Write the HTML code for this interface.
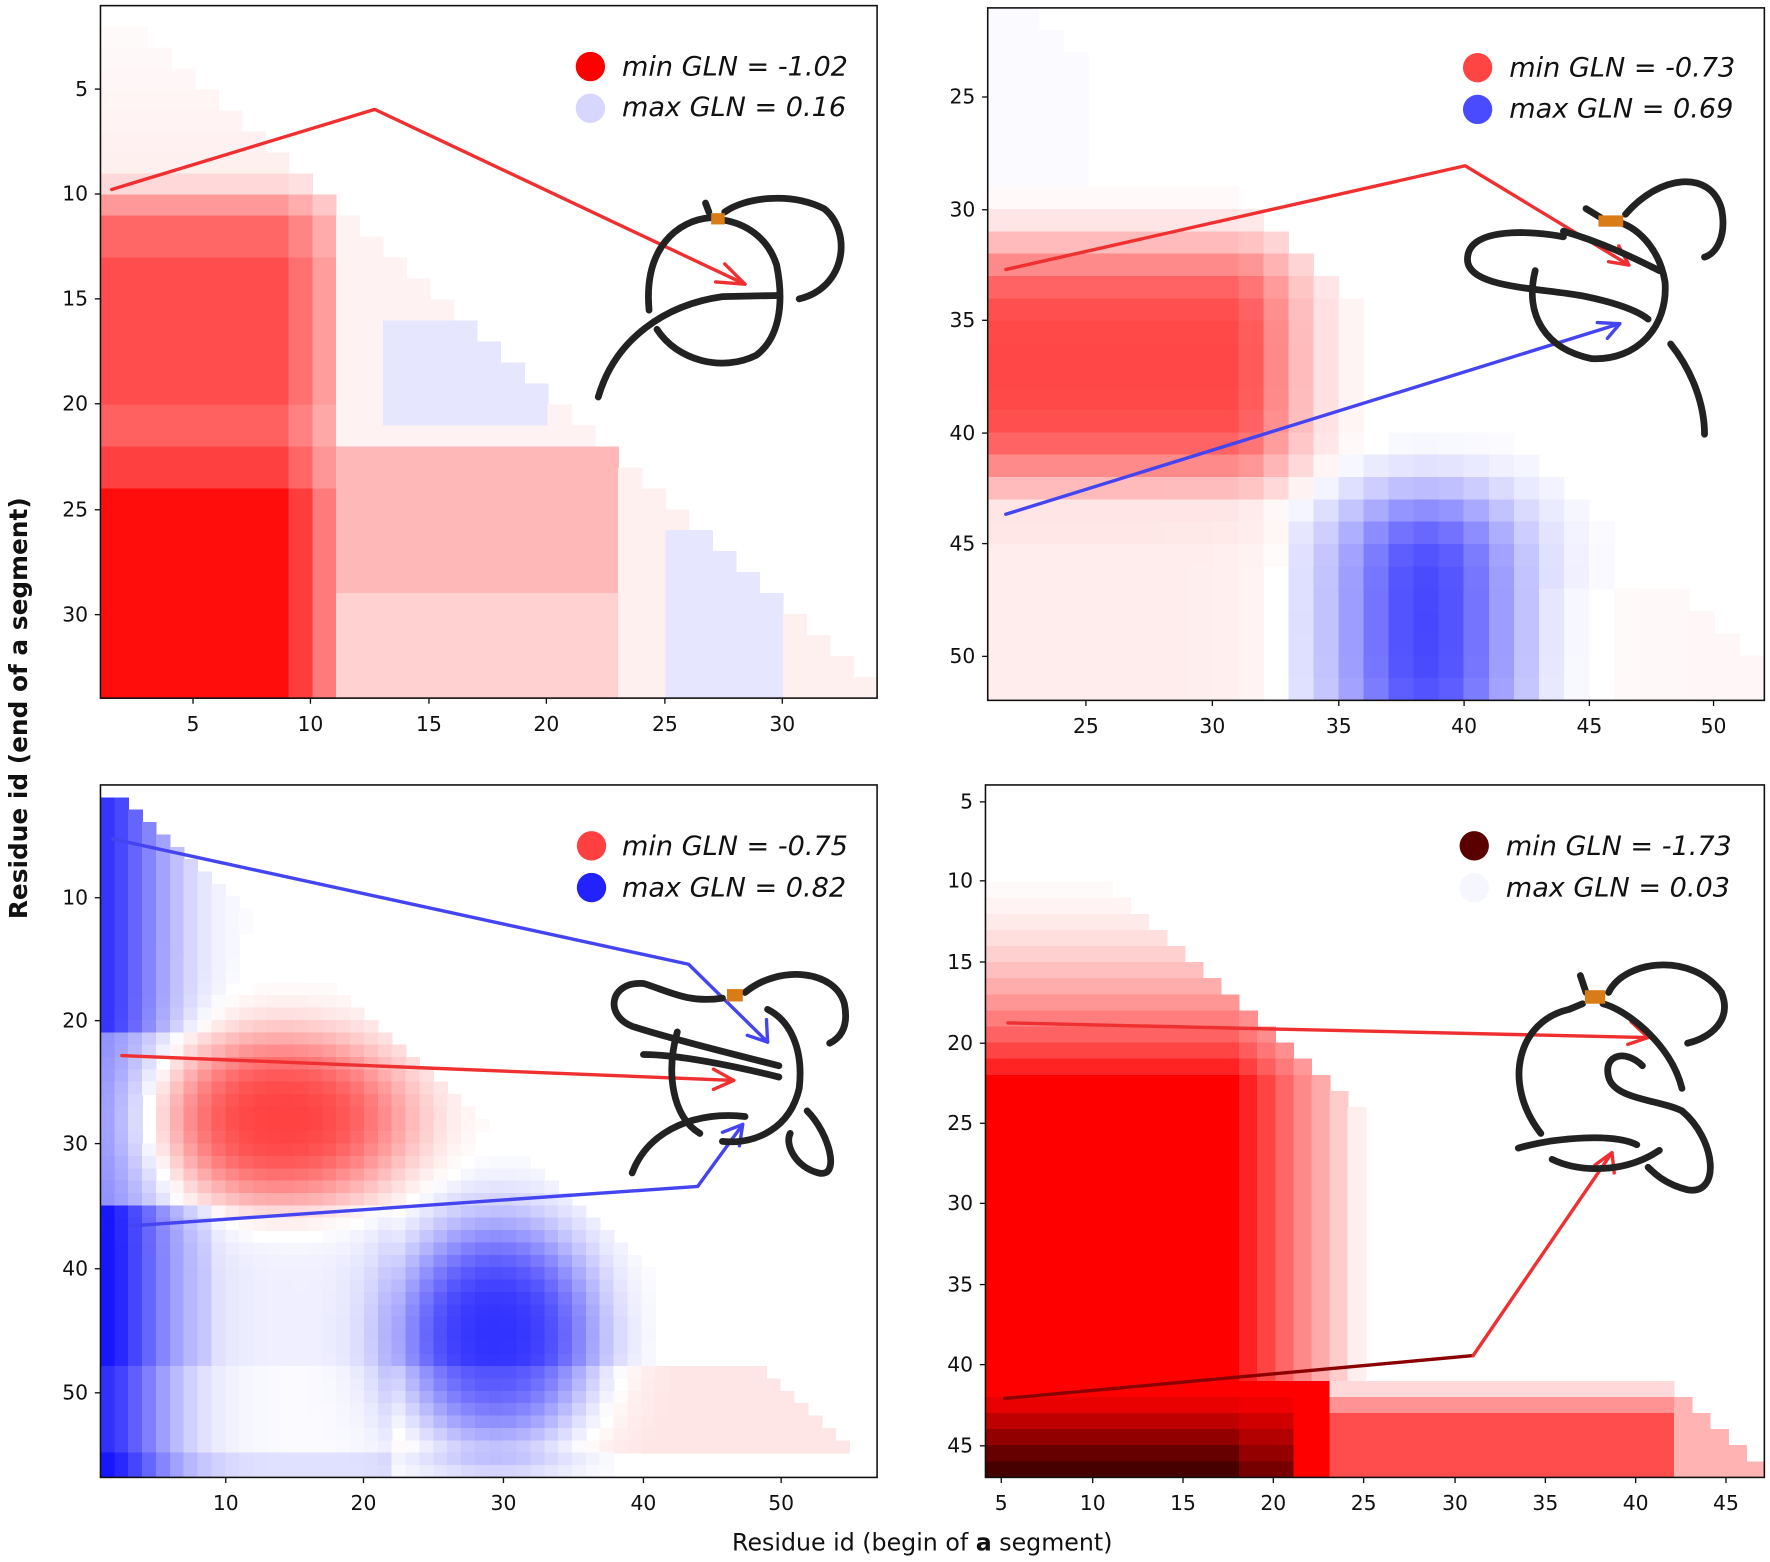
<!DOCTYPE html>
<html><head><meta charset="utf-8"><style>
html,body{margin:0;padding:0;background:#fff;}
svg{display:block;}
text{font-family:"DejaVu Sans","Liberation Sans",sans-serif;}
</style></head><body>
<svg id="s" xmlns="http://www.w3.org/2000/svg" width="1770" height="1562" viewBox="0 0 1568 1385" preserveAspectRatio="none">
<g id="hm" shape-rendering="crispEdges"></g>
<g id="ax"></g>
<g fill="none" stroke-width="3" stroke-linecap="round" stroke-linejoin="round">
<polyline points="99,168 332,97 660,252" stroke="#f03030"/>
<polyline points="642,234 660,252 634,250" stroke="#f03030"/>
<polyline points="891,239 1298,147 1443,235" stroke="#f03030"/>
<polyline points="1425,232 1443,235 1434,218" stroke="#f03030"/>
<polyline points="891,456 1435,287" stroke="#4444f0"/>
<polyline points="1415,286 1435,287 1424,300" stroke="#4444f0"/>
<polyline points="100,744 610,855 680,924" stroke="#4444f0"/>
<polyline points="662,918 680,924 679,904" stroke="#4444f0"/>
<polyline points="108,936 650,958" stroke="#f03030"/>
<polyline points="632,948 650,958 632,966" stroke="#f03030"/>
<polyline points="115,1087 618,1052 658,997" stroke="#4444f0"/>
<polyline points="640,1004 658,997 655,1016" stroke="#4444f0"/>
<polyline points="893,907 1460,920" stroke="#f03030"/>
<polyline points="1445,906 1460,920 1442,926" stroke="#f03030"/>
<polyline points="890,1240 1305,1202" stroke="#8b0000"/>
<polyline points="1305,1202 1428,1022" stroke="#f03030"/>
<polyline points="1413,1033 1428,1022 1430,1040" stroke="#f03030"/>
</g>
<g fill="none" stroke="#222" stroke-width="6" stroke-linecap="round">
<path d="M575,275 C570,220 600,195 630,193 M642,188 C660,175 700,170 730,185 C755,205 750,255 708,265"/>
<path d="M582,292 C600,320 640,330 670,315 C690,300 695,270 688,235 C680,210 660,198 640,195"/>
<path d="M530,352 C545,300 590,270 640,263 L690,262"/>
<path d="M628,188 L625,180"/>
<path d="M1360,240 C1350,280 1370,310 1410,318 C1450,320 1478,290 1475,250 C1470,220 1450,200 1430,196"/>
<path d="M1440,190 C1470,155 1515,150 1525,185 C1530,210 1520,225 1510,228"/>
<path d="M1385,210 C1360,205 1300,200 1300,230 C1300,255 1360,255 1400,262 C1430,268 1450,275 1460,283"/>
<path d="M1385,205 C1420,215 1450,230 1470,240"/>
<path d="M1480,305 C1500,330 1510,360 1510,385"/>
<path d="M1418,193 L1405,185"/>
<path d="M600,915 C590,950 595,990 620,1005 M640,1012 C670,1015 700,1000 708,965 C712,930 700,905 680,895"/>
<path d="M660,880 C690,855 740,860 748,890 C752,910 745,920 735,925"/>
<path d="M640,885 C610,890 590,878 570,872 C540,870 535,900 560,910 C590,920 650,935 690,945"/>
<path d="M570,935 C600,935 650,945 690,955"/>
<path d="M560,1040 C575,1000 620,985 660,990"/>
<path d="M715,985 C735,1005 745,1045 725,1040 C705,1035 695,1015 700,1005"/>
<path d="M1365,1005 C1330,960 1345,905 1390,895 L1402,890 M1420,890 C1440,895 1480,925 1490,965"/>
<path d="M1425,880 C1440,850 1500,845 1525,880 C1535,905 1515,920 1495,925"/>
<path d="M1455,945 C1440,930 1420,935 1425,955 C1430,975 1470,975 1490,985"/>
<path d="M1490,985 C1520,1010 1525,1060 1495,1055 C1475,1050 1465,1040 1460,1035"/>
<path d="M1345,1018 C1380,1008 1430,1005 1450,1015"/>
<path d="M1375,1028 C1400,1040 1440,1040 1470,1020"/>
<path d="M1405,880 L1400,865"/>
</g>
<g fill="#d97c17">
<rect x="630" y="189" width="12" height="10"/>
<rect x="1416" y="191" width="22" height="10"/>
<rect x="644" y="877" width="14" height="11"/>
<rect x="1404" y="878" width="18" height="12"/>
</g>
<g font-style="italic" font-size="24" fill="#111">
<circle cx="523" cy="59" r="13" fill="#f00"/><text x="551" y="67">min GLN = -1.02</text>
<circle cx="523" cy="96" r="13" fill="#d6d6ff"/><text x="551" y="103">max GLN = 0.16</text>
<circle cx="1309" cy="60" r="13" fill="#ff4444"/><text x="1337" y="68">min GLN = -0.73</text>
<circle cx="1309" cy="97" r="13" fill="#4a4aff"/><text x="1337" y="104">max GLN = 0.69</text>
<circle cx="524" cy="750" r="13" fill="#ff4040"/><text x="551" y="758">min GLN = -0.75</text>
<circle cx="524" cy="787" r="13" fill="#2222ff"/><text x="551" y="795">max GLN = 0.82</text>
<circle cx="1306" cy="750" r="13" fill="#5a0000"/><text x="1334" y="758">min GLN = -1.73</text>
<circle cx="1306" cy="787" r="13" fill="#f6f6ff"/><text x="1334" y="795">max GLN = 0.03</text>
</g>
<text transform="translate(24,628) rotate(-90)" text-anchor="middle" font-size="22" font-weight="bold" fill="#111">Residue id (end of a segment)</text>
<text x="817" y="1375" text-anchor="middle" font-size="21" fill="#111">Residue id (begin of <tspan font-weight="bold">a</tspan> segment)</text>
</svg>
<script>
var NS="http://www.w3.org/2000/svg";
function el(p,t,a,txt){var e=document.createElementNS(NS,t);for(var k in a)e.setAttribute(k,a[k]);if(txt!=null)e.textContent=txt;p.appendChild(e);return e;}
function col(v){if(!v||Math.abs(v)<0.015)return null;if(v<0){var t=Math.min(1,-v),c=Math.round(255*(1-t));return "rgb("+c+","+c+",255)";}
if(v<=1){var c=Math.round(255*(1-v));return "rgb(255,"+c+","+c+")";}var r=Math.round(255*(1-Math.min(1,v-1)*0.72));return "rgb("+r+",0,0)";}
function E(x){return Math.exp(x);}
var P=[
{x0:89,y0:5,x1:777,y1:619,lo:1,n:33,xt:[[5,171],[10,275],[15,380],[20,484],[25,589],[30,693]],yt:[[5,79],[10,172],[15,265],[20,358],[25,452],[30,545]],
f:function(i,j){if(i>j)return 0;if(j<=9)return 0.06*j/9;var rb=j==10?0.15:j==11?0.4:j<=13?0.6:j<=20?0.7:j<=22?0.62:j<=24?0.75:0.95;
if(i<=9)return rb;if(i==10)return rb*0.8;if(i==11)return rb*0.55;
if(j>=17&&j<=21&&i>=14&&i<=20)return -0.1;if(j>=27&&i>=26&&i<=30)return -0.1;
if(j<23)return 0.05;if(i>=24)return 0.06;return j>=30?0.18:0.28;}},
{x0:875,y0:7,x1:1563,y1:621,lo:21,n:31,xt:[[25,962],[30,1074],[35,1186],[40,1297],[45,1408],[50,1518]],yt:[[25,86],[30,186],[35,284],[40,384],[45,482],[50,582]],
f:function(i,j){if(i>j+1)return 0;var r=0.72*(i<=31?1:E(-Math.pow((i-31)/3,2)))*E(-Math.pow((j-37.5)/5.5,4));
var b=0.72*E(-Math.pow((i-39)/3.8,2))*E(-Math.pow((j-49)/6,4));var pk=(j>=45&&i<34)?0.07:(j>=48&&i>=44?0.03:0);if(j<30&&i<26)b+=0.02;return r-b+pk;}},
{x0:89,y0:696,x1:777,y1:1310,lo:1,n:56,xt:[[10,200],[20,322],[30,446],[40,570],[50,692]],yt:[[10,796],[20,905],[30,1014],[40,1125],[50,1235]],
f:function(i,j){if(i>j)return 0;var r=0.74*E(-Math.pow(Math.pow((i-14.5)/9.5,2)+Math.pow((j-28.5)/7,2),1.5));
var bb=0.8*E(-Math.pow(Math.pow((i-30)/7.5,2)+Math.pow((j-46)/9.5,2),1.5));
var bl=0.82*E(-Math.pow((i-1)/5.5,2))*((j>21&&j<36)?0.55:1)*(j<3?0:1);if(j>=36&&i<=22)bl+=0.12;var pk=(j>=49&&j<=55)?0.1:0;if(j>=36&&j<=48&&i>=10&&i<=22)pk+=0.06;return r-bb-bl+pk;}},
{x0:873,y0:696,x1:1563,y1:1310,lo:4,n:43,xt:[[5,887],[10,968],[15,1048],[20,1128],[25,1208],[30,1289],[35,1369],[40,1449],[45,1529]],yt:[[5,711],[10,781],[15,853],[20,925],[25,996],[30,1067],[35,1139],[40,1210],[45,1282]],
f:function(i,j){if(j<42){if(i>j||i>25)return 0;var rp=Math.min(1,Math.max(0,(j-9)/14));rp=rp*rp;var cf=i<=18?1:Math.max(0,1-(i-18)/7.5);return rp*cf;}
if(i>j)return 0;var d=Math.max(0,(j-42.5)/4);if(i<=21)return 1+0.95*d*(i>=19?0.7:1);if(i<=23)return 1;if(i<=42)return 0.15+0.55*Math.min(1,(j-42)/2);return 0.3;}}
];
var hm=document.getElementById("hm"),ax=document.getElementById("ax");
P.forEach(function(p){var cw=(p.x1-p.x0)/p.n,ch=(p.y1-p.y0)/p.n;
for(var a=0;a<p.n;a++)for(var b=0;b<p.n;b++){var i=p.lo+a+1,j=p.lo+b+1;var c=col(p.f(i,j));if(!c)continue;
el(hm,"rect",{x:(p.x0+a*cw).toFixed(2),y:(p.y0+b*ch).toFixed(2),width:(cw+0.6).toFixed(2),height:(ch+0.6).toFixed(2),fill:c});}
el(ax,"rect",{x:p.x0,y:p.y0,width:p.x1-p.x0,height:p.y1-p.y0,fill:"none",stroke:"#111","stroke-width":1.4});
p.xt.forEach(function(t){el(ax,"line",{x1:t[1],x2:t[1],y1:p.y1,y2:p.y1+5,stroke:"#111","stroke-width":1.2});
el(ax,"text",{x:t[1],y:p.y1+29,"text-anchor":"middle","font-size":18,fill:"#111"},t[0]);});
p.yt.forEach(function(t){el(ax,"line",{x1:p.x0-5,x2:p.x0,y1:t[1],y2:t[1],stroke:"#111","stroke-width":1.2});
el(ax,"text",{x:p.x0-11,y:t[1]+6,"text-anchor":"end","font-size":18,fill:"#111"},t[0]);});
});
</script>
</body></html>
